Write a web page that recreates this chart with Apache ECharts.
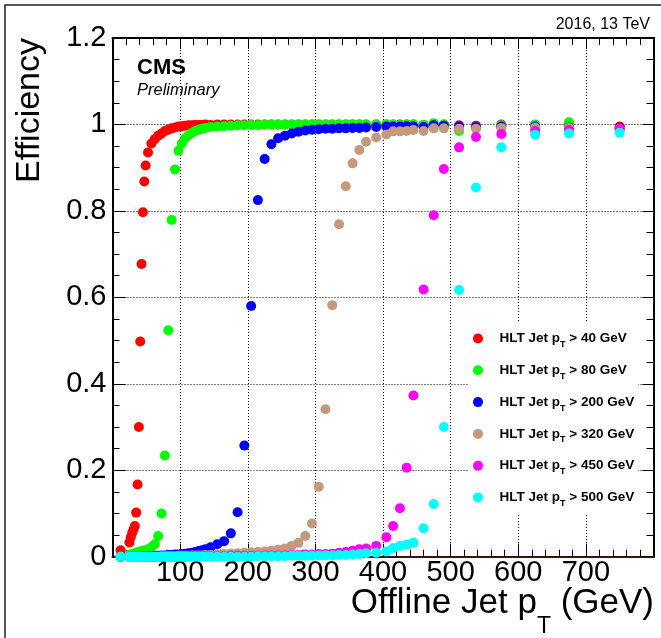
<!DOCTYPE html>
<html>
<head>
<meta charset="utf-8">
<script src="https://cdn.jsdelivr.net/npm/echarts@6/dist/echarts.min.js"></script>
<style>
html,body{margin:0;padding:0;background:#fff;}
#chart{width:661px;height:638px;}
</style>
</head>
<body>
<div id="chart"></div>
<script>
// Offline jet pT bin centres (GeV)
const ptBins = [12,
  25,27,29,31,33,35,37,39,41,43,45,47,49,
  52.5,57.5,62.5,67.5,72.5,77.5,82.5,87.5,92.5,97.5,102.5,107.5,112.5,117.5,122.5,127.5,132.5,137.5,
  145,155,165,175,185,195,205,215,225,235,245,255,265,275,285,295,305,315,325,335,345,355,365,375,
  390,405,415,425,435,445,460,475,490,512.5,537.5,575,625,675,750];

const seriesNames = ['HLT Jet p_T > 40 GeV','HLT Jet p_T > 80 GeV','HLT Jet p_T > 200 GeV',
  'HLT Jet p_T > 320 GeV','HLT Jet p_T > 450 GeV','HLT Jet p_T > 500 GeV'];
const seriesColors = ['#ff0000','#00ff00','#0000ff','#c49a7c','#ff00ff','#00ffff'];

const effHLT40 = [0.015,
  0.033,0.045,0.055,0.063,0.071,0.102,0.167,0.300,0.498,0.677,0.797,0.868,0.905,
  0.935,0.956,0.966,0.974,0.979,0.985,0.988,0.991,0.993,0.995,0.996,0.997,0.998,0.998,0.999,0.999,0.999,1.000,
  0.999,1.000,1.000,1.000,1.000,1.000,1.000,1.000,1.000,1.000,1.000,1.000,1.000,1.000,1.000,1.000,1.000,1.000,1.000,1.000,1.000,1.000,1.000,1.000,
  1.000,1.000,1.000,1.000,1.000,1.000,0.999,1.000,1.000,0.998,0.997,1.000,0.999,1.002,0.995];

const effHLT80 = [0.000,
  0.004,0.005,0.006,0.007,0.008,0.009,0.010,0.011,0.012,0.012,0.013,0.014,0.015,
  0.017,0.022,0.029,0.048,0.100,0.234,0.524,0.779,0.896,0.939,0.956,0.968,0.975,0.981,0.985,0.988,0.990,0.992,
  0.994,0.995,0.996,0.997,0.998,0.998,0.999,0.999,1.000,1.000,1.000,1.000,1.000,1.000,1.000,1.000,1.000,1.000,1.000,1.000,1.000,1.000,1.000,1.000,
  1.000,1.000,1.000,0.999,1.000,1.000,0.999,1.003,1.000,0.985,0.992,0.998,1.000,1.005,0.990];

const effHLT200 = [0.000,
  0.000,0.000,0.000,0.000,0.000,0.000,0.000,0.000,0.001,0.001,0.001,0.001,0.001,
  0.001,0.001,0.002,0.002,0.003,0.003,0.004,0.004,0.005,0.005,0.006,0.007,0.008,0.009,0.011,0.013,0.015,0.017,
  0.022,0.029,0.036,0.054,0.103,0.257,0.580,0.825,0.920,0.954,0.968,0.974,0.979,0.983,0.986,0.988,0.989,0.990,0.990,0.991,0.991,0.992,0.992,0.993,
  0.994,0.995,0.995,0.995,0.996,0.995,0.994,0.998,0.997,0.995,0.994,0.995,0.995,0.993,0.992];

const effHLT320 = [0.000,
  0.000,0.000,0.000,0.000,0.000,0.000,0.000,0.000,0.000,0.000,0.000,0.000,0.000,
  0.000,0.000,0.000,0.000,0.001,0.001,0.001,0.001,0.001,0.002,0.002,0.002,0.002,0.003,0.003,0.003,0.003,0.004,
  0.004,0.005,0.006,0.007,0.008,0.009,0.010,0.011,0.012,0.014,0.016,0.019,0.025,0.032,0.048,0.077,0.162,0.341,0.582,0.769,0.857,0.910,0.941,0.960,
  0.970,0.977,0.984,0.984,0.985,0.987,0.985,0.991,0.991,0.990,0.990,0.992,0.993,0.992,0.990];

const effHLT450 = [0.000,
  0.000,0.000,0.000,0.000,0.000,0.000,0.000,0.000,0.000,0.000,0.000,0.000,0.000,
  0.000,0.000,0.000,0.000,0.000,0.000,0.000,0.000,0.000,0.000,0.000,0.000,0.001,0.001,0.001,0.001,0.001,0.001,
  0.001,0.001,0.001,0.002,0.002,0.002,0.002,0.002,0.003,0.003,0.003,0.003,0.004,0.004,0.005,0.005,0.006,0.006,0.007,0.009,0.011,0.014,0.017,0.019,
  0.025,0.045,0.071,0.112,0.206,0.373,0.618,0.790,0.897,0.947,0.971,0.978,0.985,0.987,0.989];

const effHLT500 = [0.000,
  0.000,0.000,0.000,0.000,0.000,0.000,0.000,0.000,0.000,0.000,0.000,0.000,0.000,
  0.000,0.000,0.000,0.000,0.000,0.000,0.000,0.000,0.000,0.000,0.000,0.000,0.000,0.000,0.000,0.000,0.000,0.000,
  0.000,0.000,0.000,0.000,0.000,0.000,0.000,0.001,0.001,0.001,0.001,0.001,0.002,0.002,0.002,0.002,0.003,0.003,0.003,0.004,0.004,0.005,0.006,0.008,
  0.009,0.012,0.020,0.025,0.028,0.032,0.066,0.122,0.300,0.617,0.854,0.947,0.976,0.979,0.981];

const effAll = [effHLT40, effHLT80, effHLT200, effHLT320, effHLT450, effHLT500];

const xRange = [0, 800];
const yRange = [0, 1.2];

const FONT = 'Liberation Sans';
const chart = echarts.init(document.getElementById('chart'), null, {renderer: 'canvas'});

const series = effAll.map((vals, i) => ({
  name: seriesNames[i],
  type: 'scatter',
  symbol: 'circle',
  symbolSize: 10,
  xAxisIndex: 0,
  yAxisIndex: 0,
  itemStyle: {color: seriesColors[i], opacity: 1},
  emphasis: {disabled: true},
  data: ptBins.map((x, k) => [x, vals[k]])
}));

const tickStyle = {color: '#000', width: 1};

chart.setOption({
  animation: false,
  backgroundColor: '#fff',
  grid: {left: 112.5, right: 7.5, top: 38, bottom: 81.3, containLabel: false},
  xAxis: [{
    type: 'value', min: xRange[0], max: xRange[1], interval: 100, position: 'bottom',
    axisLine: {show: true, onZero: false, lineStyle: {color: '#3f1010', width: 2}},
    axisTick: {show: true, inside: true, length: 13, lineStyle: tickStyle},
    minorTick: {show: true, splitNumber: 5, length: 7, lineStyle: tickStyle},
    axisLabel: {show: true, margin: 2, fontSize: 29, fontFamily: FONT, color: '#000',
      formatter: v => (v > 0 && v < 800) ? String(v) : ''},
    splitLine: {show: true, lineStyle: {color: '#000', width: 1, type: [1, 2]}},
    minorSplitLine: {show: false}
  }, {
    type: 'value', min: xRange[0], max: xRange[1], interval: 100, position: 'top',
    axisLine: {show: true, onZero: false, lineStyle: {color: '#000', width: 2}},
    axisTick: {show: true, inside: true, length: 11, lineStyle: tickStyle},
    minorTick: {show: true, splitNumber: 5, length: 7, lineStyle: tickStyle},
    axisLabel: {show: false},
    splitLine: {show: false}
  }],
  yAxis: [{
    type: 'value', min: yRange[0], max: yRange[1], interval: 0.2, position: 'left',
    axisLine: {show: true, onZero: false, lineStyle: {color: '#000', width: 2}},
    axisTick: {show: true, inside: true, length: 13, lineStyle: tickStyle},
    minorTick: {show: true, splitNumber: 4, length: 7, lineStyle: tickStyle},
    axisLabel: {show: true, margin: 6, fontSize: 29, fontFamily: FONT, color: '#000', padding: [4, 0, 0, 0],
      formatter: v => String(Math.round(v * 10) / 10)},
    splitLine: {show: true, lineStyle: {color: '#000', width: 1, type: [1, 2]}},
    minorSplitLine: {show: false}
  }, {
    type: 'value', min: yRange[0], max: yRange[1], interval: 0.2, position: 'right',
    axisLine: {show: true, onZero: false, lineStyle: {color: '#000', width: 2}},
    axisTick: {show: true, inside: true, length: 11, lineStyle: tickStyle},
    minorTick: {show: true, splitNumber: 4, length: 7, lineStyle: tickStyle},
    axisLabel: {show: false},
    splitLine: {show: false}
  }],
  legend: {
    orient: 'vertical', align: 'left', left: 468, top: 322, padding: [6, 4, 6, 5],
    itemGap: 10.8, itemWidth: 33, itemHeight: 10, icon: 'circle',
    backgroundColor: '#fff', selectedMode: false,
    data: seriesNames,
    formatter: n => n.replace('p_T', 'p{sub|T}'),
    textStyle: {fontFamily: FONT, fontWeight: 'bold', fontSize: 13.5, color: '#000', lineHeight: 16,
      rich: {sub: {fontFamily: FONT, fontWeight: 'bold', fontSize: 9, lineHeight: 10, padding: [12, 0, 0, 0], color: '#000'}}}
  },
  graphic: [
    {type: 'rect', silent: true, z: 100, shape: {x: 5, y: 5, width: 700, height: 700},
      style: {fill: 'none', stroke: '#222', lineWidth: 1.5}},
    {type: 'text', silent: true, z: 100, x: 137, y: 68,
      style: {text: 'CMS', fontFamily: FONT, fontWeight: 'bold', fontSize: 22, fill: '#000', align: 'left', verticalAlign: 'middle'}},
    {type: 'text', silent: true, z: 100, x: 137, y: 90,
      style: {text: 'Preliminary', fontFamily: FONT, fontStyle: 'italic', fontSize: 16.5, fill: '#000', align: 'left', verticalAlign: 'middle'}},
    {type: 'text', silent: true, z: 100, x: 650, y: 25,
      style: {text: '2016, 13 TeV', fontFamily: FONT, fontSize: 16, fill: '#000', align: 'right', verticalAlign: 'middle'}},
    {type: 'text', silent: true, z: 100, x: 30, y: 38, rotation: Math.PI / 2,
      style: {text: 'Efficiency', fontFamily: FONT, fontSize: 34, fill: '#000', align: 'right', verticalAlign: 'middle'}},
    {type: 'text', silent: true, z: 100, x: 654, y: 603,
      style: {text: 'Offline Jet p{sub|T} (GeV)', fontFamily: FONT, fontSize: 35, lineHeight: 35, fill: '#000', align: 'right', verticalAlign: 'middle',
        rich: {sub: {fontFamily: FONT, fontSize: 23, lineHeight: 24, padding: [47, 0, 0, 0], fill: '#000'}}}}
  ],
  series: series
});
</script>
</body>
</html>
